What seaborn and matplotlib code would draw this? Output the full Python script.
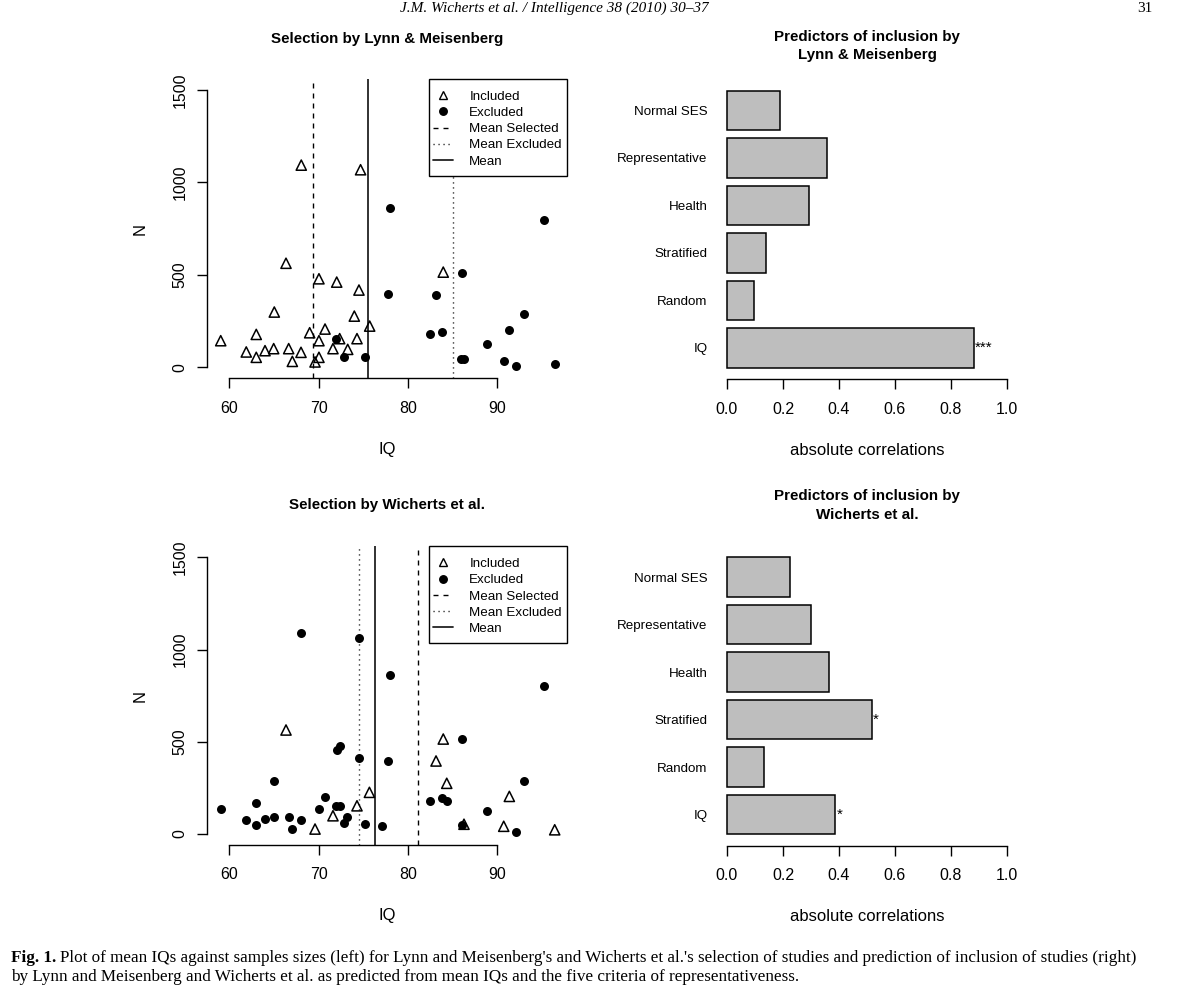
import numpy as np
import pandas as pd
import matplotlib
matplotlib.use("Agg")
import matplotlib.pyplot as plt
from matplotlib.lines import Line2D
from matplotlib.patches import Rectangle
from matplotlib.ticker import FormatStrFormatter
import seaborn as sns

# ---------------- data ----------------
# Selection by Lynn & Meisenberg
lm_inc_iq = [59.04, 61.9, 63.02, 63.02, 64.0, 64.97, 65.04, 66.35, 66.65, 67.06, 68.03, 68.06,
             69.0, 69.6, 70.04, 70.04, 70.04, 70.72, 71.61, 72.03, 72.36, 73.26, 74.0, 74.3,
             74.52, 74.7, 75.72, 83.96]
lm_inc_n = [144, 83, 178, 54, 90, 101, 299, 563, 101, 32, 81, 1094,
            187, 29, 479, 144, 54, 207, 101, 461, 155, 97, 277, 155,
            418, 1069, 223, 515]
lm_exc_iq = [71.94, 72.9, 75.23, 77.8, 77.99, 82.51, 83.15, 83.82, 85.98, 86.02, 86.28, 88.82,
             90.73, 91.36, 92.1, 93.0, 95.22, 96.44]
lm_exc_n = [151, 57, 54, 398, 860, 180, 389, 193, 47, 512, 47, 124,
            36, 200, 9, 287, 799, 18]
lm_means = [69.34, 85.09, 75.53]          # mean selected, mean excluded, mean

# Selection by Wicherts et al.
w_inc_iq = [66.35, 69.6, 71.61, 74.3, 75.69, 83.15, 83.96, 84.35, 86.28, 90.73, 91.36, 96.44]
w_inc_n = [564, 27, 99, 153, 226, 396, 515, 275, 53, 42, 204, 23]
w_exc_iq = [59.04, 61.9, 63.02, 63.02, 64.0, 64.97, 65.04, 66.65, 67.06, 68.03, 68.06, 70.04,
            70.72, 71.98, 72.06, 72.36, 72.36, 72.9, 73.2, 74.52, 74.55, 75.23, 77.07, 77.8,
            77.99, 82.51, 83.78, 84.35, 86.02, 86.06, 88.82, 92.1, 93.0, 95.22]
w_exc_n = [136, 74, 170, 47, 80, 94, 289, 94, 25, 76, 1091, 136,
           201, 150, 455, 477, 150, 61, 92, 414, 1064, 54, 45, 397,
           860, 179, 194, 179, 49, 515, 125, 9, 287, 800]
w_means = [81.1, 74.56, 76.28]

# Predictors of inclusion
predictors = ["Normal SES", "Representative", "Health", "Stratified", "Random", "IQ"]
lm_corr = [0.188, 0.357, 0.293, 0.138, 0.095, 0.881]
lm_sig = ["", "", "", "", "", "***"]
w_corr = [0.224, 0.300, 0.365, 0.517, 0.132, 0.387]
w_sig = ["", "", "", "*", "", "*"]

legend_labels = ["Included", "Excluded", "Mean Selected", "Mean Excluded", "Mean"]
x_ticks_iq = [60, 70, 80, 90]
y_ticks_n = [0, 500, 1000, 1500]

# ---------------- style ----------------
sns.set_style("ticks")
plt.rcParams["font.family"] = ["Liberation Sans", "DejaVu Sans"]
plt.rcParams.update({
    "axes.edgecolor": "black", "text.color": "black", "xtick.color": "black",
    "ytick.color": "black", "axes.labelcolor": "black", "axes.linewidth": 1.0,
})

W, H = 1188, 1007
fig = plt.figure(figsize=(W / 100, H / 100), dpi=100)
fig.patch.set_facecolor("white")


def px_axes(left, top, right, bottom):
    return fig.add_axes([left / W, 1 - bottom / H, (right - left) / W, (bottom - top) / H])


DASH = (0, (3.6, 3.6))
DOT = (0, (0.8, 2.8))


def scatter_panel(ax, inc_iq, inc_n, exc_iq, exc_n, means):
    df_inc = pd.DataFrame({"IQ": inc_iq, "N": inc_n})
    df_exc = pd.DataFrame({"IQ": exc_iq, "N": exc_n})
    sns.scatterplot(data=df_inc, x="IQ", y="N", marker="^", s=54, facecolor="none",
                    edgecolor="black", linewidth=1.1, ax=ax, legend=False, zorder=3)
    sns.scatterplot(data=df_exc, x="IQ", y="N", marker="o", s=42, color="black",
                    edgecolor="black", linewidth=0, ax=ax, legend=False, zorder=3)
    ax.axvline(means[0], color="black", lw=1.0, ls=DASH)
    ax.axvline(means[1], color="black", lw=1.0, ls=DOT)
    ax.axvline(means[2], color="#222222", lw=1.3, ls="-")
    ax.set_xlim(57.47, 97.85)
    ax.set_ylim(-60, 1560)
    for s in ["top", "right"]:
        ax.spines[s].set_visible(False)
    ax.spines["left"].set_bounds(0, 1500)
    ax.spines["bottom"].set_bounds(60, 90)
    ax.set_xticks(x_ticks_iq)
    ax.set_xticklabels([str(v) for v in x_ticks_iq])
    ax.set_yticks(y_ticks_n)
    ax.set_yticklabels([str(v) for v in y_ticks_n], rotation=90, va="center")
    ax.tick_params(axis="both", direction="out", length=7, width=1.0, labelsize=11.5)
    ax.tick_params(axis="x", pad=9)
    ax.tick_params(axis="y", pad=7)
    ax.set_xlabel("IQ", fontsize=12)
    ax.set_ylabel("N", fontsize=12)
    ax.xaxis.set_label_coords(0.5, -0.237)
    ax.xaxis.label.set_va("center")
    ax.yaxis.set_label_coords(-0.185, 0.5)
    ax.yaxis.label.set_va("center")
    # legend box (white, covers the mean lines like the original)
    ax.add_patch(Rectangle((0.6156, 0.676), 0.3844, 0.324, transform=ax.transAxes,
                           facecolor="white", edgecolor="black", lw=1.0, zorder=5,
                           clip_on=False))
    handles = [
        Line2D([], [], marker="^", ls="none", mfc="none", mec="black", ms=5.8, mew=1.0),
        Line2D([], [], marker="o", ls="none", color="black", ms=5.4),
        Line2D([], [], color="black", lw=1.0, ls=DASH),
        Line2D([], [], color="black", lw=1.0, ls=DOT),
        Line2D([], [], color="#222222", lw=1.3),
    ]
    leg = ax.legend(handles, legend_labels, loc="upper left", bbox_to_anchor=(0.6267, 0.9615),
                    borderaxespad=0, frameon=False, fontsize=9.6, handlelength=1.55,
                    handletextpad=1.2, labelspacing=0.29, borderpad=0)
    leg.set_zorder(6)


def bar_panel(ax, vals, sig):
    sns.barplot(x=vals, y=predictors, orient="h", color="#BEBEBE", saturation=1,
                edgecolor="black", linewidth=1.1, width=0.833, ax=ax)
    ax.set_xlim(-0.04, 1.04)
    ax.set_ylim(5.659, -0.663)
    for s in ["top", "right", "left"]:
        ax.spines[s].set_visible(False)
    ax.spines["bottom"].set_bounds(0, 1)
    ax.set_xticks(np.arange(0, 1.01, 0.2))
    ax.xaxis.set_major_formatter(FormatStrFormatter("%.1f"))
    ax.tick_params(axis="x", direction="out", length=7, width=1.0, labelsize=11.5, pad=9)
    ax.tick_params(axis="y", length=0, labelsize=9.6, pad=6)
    for i, (v, s) in enumerate(zip(vals, sig)):
        if s:
            ax.text(v + 0.004, i, s, ha="left", va="center", fontsize=11)
    ax.set_ylabel("")
    ax.set_xlabel("absolute correlations", fontsize=12)
    ax.xaxis.set_label_coords(0.5, -0.236)
    ax.xaxis.label.set_va("center")


ax1 = px_axes(206.7, 79.0, 567.3, 378.4)
scatter_panel(ax1, lm_inc_iq, lm_inc_n, lm_exc_iq, lm_exc_n, lm_means)
ax2 = px_axes(715.8, 79.0, 1018.2, 379.3)
bar_panel(ax2, lm_corr, lm_sig)
ax3 = px_axes(206.7, 546.3, 567.3, 845.1)
scatter_panel(ax3, w_inc_iq, w_inc_n, w_exc_iq, w_exc_n, w_means)
ax4 = px_axes(715.8, 545.7, 1018.2, 846.0)
bar_panel(ax4, w_corr, w_sig)

# titles
tkw = dict(ha="center", va="center", fontweight="bold", fontsize=10.9)
fig.text(387 / W, 1 - 38.5 / H, "Selection by Lynn & Meisenberg", **tkw)
fig.text(867 / W, 1 - 36.5 / H, "Predictors of inclusion by", **tkw)
fig.text(867 / W, 1 - 55 / H, "Lynn & Meisenberg", **tkw)
fig.text(387 / W, 1 - 505.5 / H, "Selection by Wicherts et al.", **tkw)
fig.text(867 / W, 1 - 496 / H, "Predictors of inclusion by", **tkw)
fig.text(867 / W, 1 - 515 / H, "Wicherts et al.", **tkw)

# page header and caption
serif = ["Liberation Serif", "DejaVu Serif"]
fig.text(400 / W, 1 - 12 / H, "J.M. Wicherts et al. / Intelligence 38 (2010) 30\u201337",
         family=serif, style="italic", fontsize=11, va="baseline", ha="left")
fig.text(1152 / W, 1 - 12 / H, "31", family=serif, fontsize=11, va="baseline", ha="right")

renderer = fig.canvas.get_renderer()
line1 = ("Plot of mean IQs against samples sizes (left) for Lynn and Meisenberg's and "
         "Wicherts et al.'s selection of studies and prediction of inclusion of studies (right)")
line2 = ("by Lynn and Meisenberg and Wicherts et al. as predicted from mean IQs and the "
         "five criteria of representativeness.")
fs = 12.0
tb = fig.text(11 / W, 1 - 962 / H, "Fig. 1.", family=serif, fontweight="bold",
              fontsize=fs, va="baseline", ha="left")
bb = tb.get_window_extent(renderer)
t1 = fig.text((bb.x1 + 4) / W, 1 - 962 / H, line1, family=serif, fontsize=fs,
              va="baseline", ha="left")
b1 = t1.get_window_extent(renderer)
scale = (1137 - 11) / (b1.x1 - bb.x0)
fs2 = fs * scale
tb.set_fontsize(fs2)
bb = tb.get_window_extent(renderer)
t1.set_fontsize(fs2)
t1.set_x((bb.x1 + 4 * scale) / W)
fig.text(11 / W, 1 - 981 / H, line2, family=serif, fontsize=fs2, va="baseline", ha="left")

fig.savefig("out.png", dpi=100, facecolor="white")
